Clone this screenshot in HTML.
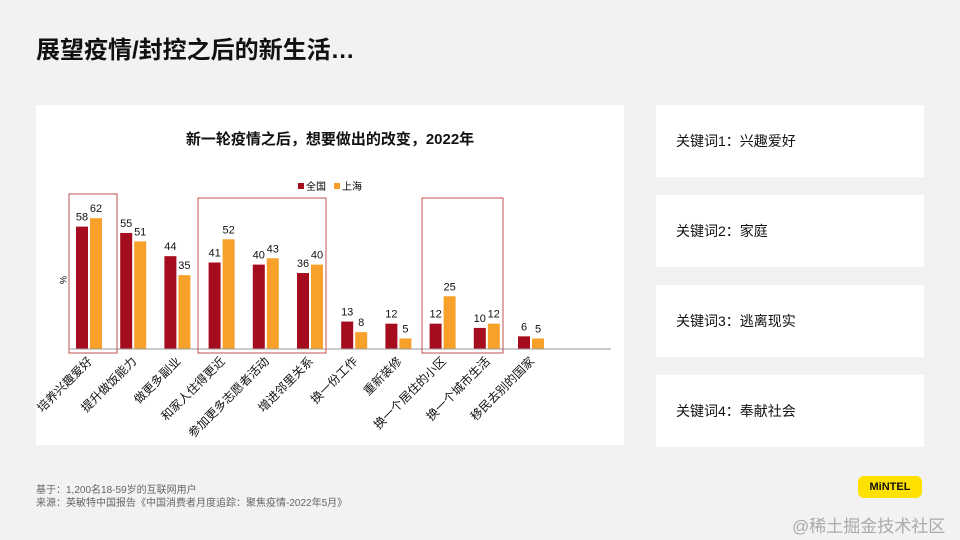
<!DOCTYPE html>
<html><head><meta charset="utf-8"><style>
body{margin:0;width:960px;height:540px;background:#f2f2f2;font-family:"Liberation Sans","Noto Sans CJK SC",sans-serif;position:relative;overflow:hidden}
.t{position:absolute;left:36px;top:30px;font-size:24px;font-weight:bold;color:#111}
.panel{position:absolute;background:#fff}
.kw{position:absolute;left:656px;width:268px;height:72px;background:#fff;font-size:14px;color:#111;line-height:72px;box-sizing:border-box;padding-left:20px}
.foot{position:absolute;left:36px;top:484px;font-size:10px;color:#666;line-height:13px}
</style></head><body>
<div class="t">展望疫情/封控之后的新生活…</div>
<div class="panel" style="left:36px;top:105px;width:588px;height:340px"></div>
<svg id="c" width="960" height="540" style="position:absolute;left:0;top:0">
<text x="330" y="144" text-anchor="middle" font-size="15" font-weight="bold" fill="#111">新一轮疫情之后，想要做出的改变，2022年</text>
<g>
<rect x="298" y="183" width="6" height="6" fill="#a50d1f"/><text x="306" y="190" font-size="10">全国</text>
<rect x="334" y="183" width="6" height="6" fill="#f7a12b"/><text x="342" y="190" font-size="10">上海</text>
</g>
<text x="0" y="0" font-size="9" transform="translate(60,276) rotate(90)">%</text>
<g id="bars"></g>
<line x1="70" y1="349" x2="611" y2="349" stroke="#999" stroke-width="1"/>
<rect x="69" y="194" width="48" height="159" fill="none" stroke="#c0504d" stroke-width="1"/>
<rect x="198" y="198" width="128" height="155" fill="none" stroke="#c0504d" stroke-width="1"/>
<rect x="422" y="198" width="81" height="155" fill="none" stroke="#c0504d" stroke-width="1"/>
</svg>
<div class="kw" style="top:105px">关键词1：兴趣爱好</div>
<div class="kw" style="top:195px">关键词2：家庭</div>
<div class="kw" style="top:285px">关键词3：逃离现实</div>
<div class="kw" style="top:375px">关键词4：奉献社会</div>
<div class="foot">基于：1,200名18-59岁的互联网用户<br>来源：英敏特中国报告《中国消费者月度追踪：聚焦疫情-2022年5月》</div>
<div style="position:absolute;left:858px;top:476px;width:64px;height:22px;background:#ffe100;border-radius:6px;font-size:11px;font-weight:bold;text-align:center;line-height:22px;color:#111">MiNTEL</div>
<div style="position:absolute;left:792px;top:512px;font-size:17px;color:#aaa">@稀土掘金技术社区</div>
<script>
const categories=["培养兴趣爱好","提升做饭能力","做更多副业","和家人住得更近","参加更多志愿者活动","增进邻里关系","换一份工作","重新装修","换一个居住的小区","换一个城市生活","移民去别的国家"];
const national=[58,55,44,41,40,36,13,12,12,10,6];
const shanghai=[62,51,35,52,43,40,8,5,25,12,5];
const NS="http://www.w3.org/2000/svg";
const g=document.getElementById('bars');
const base=349,scale=2.11,x0=76,step=44.2,bw=12;
const y=v=>base-v*scale;
function mk(t,a){const e=document.createElementNS(NS,t);for(const k in a)e.setAttribute(k,a[k]);g.appendChild(e);return e;}
categories.forEach((c,i)=>{
  const xr=x0+i*step,xo=xr+bw+2;
  [[national[i],xr,'#a50d1f','national'],[shanghai[i],xo,'#f7a12b','shanghai']].forEach(([v,x,col,s])=>{
    const r=mk('rect',{x:x,y:y(v),width:bw,height:base-y(v),fill:col});
    
    
    const t=mk('text',{x:x+bw/2,y:y(v)-6,'text-anchor':'middle','font-size':11,fill:'#111'});
    t.textContent=v;
    
    
  });
  const cx=xr+bw+1;
  const l=mk('text',{x:0,y:0,'text-anchor':'end','font-size':12,fill:'#111',transform:`translate(${cx+4},${base+13}) rotate(-45)`});
  l.textContent=c;
  
  
});
</script>
</body></html>
